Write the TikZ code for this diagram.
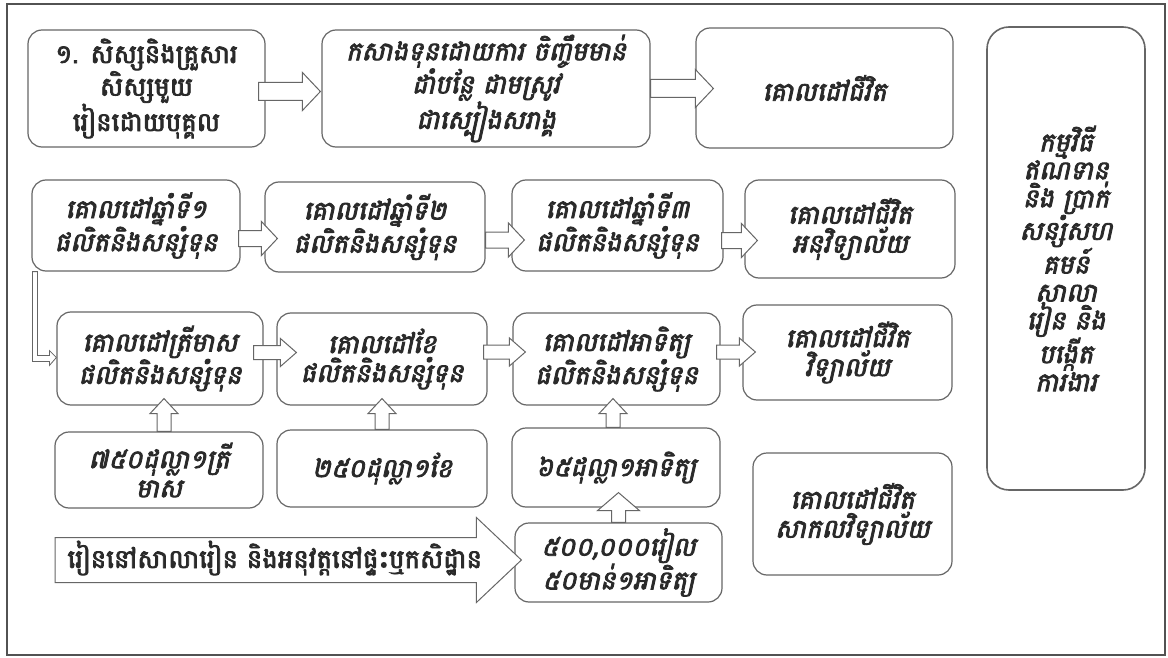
\documentclass[tikz,border=0pt]{standalone}
\usepackage{fontspec}
\usetikzlibrary{calc}
\newfontfamily\khup[Script=Khmer,FakeBold=3]{Battambang}
\newfontfamily\khsl[Script=Khmer,FakeSlant=0.22,FakeBold=3.2]{Battambang}
\definecolor{ink}{HTML}{2A2A2A}
\definecolor{edge}{HTML}{666666}
\tikzset{
  box/.style={draw=edge, line width=1.2pt, rounded corners=14pt, fill=white,
    align=center, text=ink, inner sep=2pt},
  sl/.style={font=\khsl\fontsize{26}{29}\selectfont},
  up/.style={font=\khup\fontsize{26}{31}\selectfont},
  blk/.style={draw=edge, line width=1pt, fill=white, line join=miter},
}
\newcommand\hblock[5]{\draw[blk] let \p1=(#1), \p2=(#2) in
 (\x1,\y1+#3) -- (\x2-#5,\y1+#3) -- (\x2-#5,\y1+#4) -- (\x2,\y1) -- (\x2-#5,\y1-#4) -- (\x2-#5,\y1-#3) -- (\x1,\y1-#3) -- cycle;}
\newcommand\vblock[5]{\draw[blk] let \p1=(#1), \p2=(#2) in
 (\x1+#3,\y1) -- (\x1+#3,\y2-#5) -- (\x1+#4,\y2-#5) -- (\x1,\y2) -- (\x1-#4,\y2-#5) -- (\x1-#3,\y2-#5) -- (\x1-#3,\y1) -- cycle;}
\begin{document}
\begin{tikzpicture}[x=1pt,y=-1pt]
\useasboundingbox (0,0) rectangle (1168,658);
\fill[white] (0,0) rectangle (1168,658);
\draw[edge!80!black, line width=1.8pt] (7,4) rectangle (1165,655);

% top row
\node[box,up,minimum width=237pt,minimum height=117pt] (A) at (146.5,88.5) {១. សិស្សនិងគ្រួសារ\\សិស្សមួយ\\រៀនដោយបុគ្គល};
\node[box,sl,minimum width=328pt,minimum height=117pt] (B) at (486,88.5) {កសាងទុនដោយការ ចិញ្ចឹមមាន់\\ដាំបន្លែ ដាមស្រូវ\\ជាស្បៀងសរាង្គ};
\node[box,sl,minimum width=257pt,minimum height=120pt] (C) at (824.5,88) {គោលដៅជីវិត};
\node[box,sl,line width=1.6pt,rounded corners=22pt,minimum width=158pt,minimum height=463pt,
  font=\khsl\fontsize{26}{28}\selectfont] (D) at (1066,258.5)
  {កម្មវិធី\\ឥណទាន\\និង ប្រាក់\\សន្សំសហ\\គមន៍\\សាលា\\រៀន និង\\បង្កើត\\ការងារ};

% row 2
\node[box,sl,minimum width=208pt,minimum height=91pt] (Y1) at (136,225.5) {គោលដៅឆ្នាំទី១\\ផលិតនិងសន្សំទុន};
\node[box,sl,minimum width=220pt,minimum height=90pt] (Y2) at (375,227) {គោលដៅឆ្នាំទី២\\ផលិតនិងសន្សំទុន};
\node[box,sl,minimum width=211pt,minimum height=91pt] (Y3) at (617.5,225.5) {គោលដៅឆ្នាំទី៣\\ផលិតនិងសន្សំទុន};
\node[box,sl,minimum width=210pt,minimum height=98pt] (L1) at (850,229) {គោលដៅជីវិត\\អនុវិទ្យាល័យ};

% row 3
\node[box,sl,minimum width=206pt,minimum height=93pt] (Q) at (160,358.5) {គោលដៅត្រីមាស\\ផលិតនិងសន្សំទុន};
\node[box,sl,minimum width=210pt,minimum height=92pt] (M) at (382,359) {គោលដៅខែ\\ផលិតនិងសន្សំទុន};
\node[box,sl,minimum width=207pt,minimum height=92pt] (W) at (616.5,359) {គោលដៅអាទិត្យ\\ផលិតនិងសន្សំទុន};
\node[box,sl,minimum width=209pt,minimum height=95pt] (L2) at (847.5,352.5) {គោលដៅជីវិត\\វិទ្យាល័យ};

% row 4
\node[box,sl,minimum width=208pt,minimum height=76pt] (Qm) at (159,470) {៧៥០ដុល្លា១ត្រី\\មាស};
\node[box,sl,minimum width=210pt,minimum height=77pt] (Mm) at (382,468.5) {២៥០ដុល្លា១ខែ};
\node[box,sl,minimum width=208pt,minimum height=79pt] (Wm) at (616,467.5) {៦៥ដុល្លា១អាទិត្យ};
\node[box,sl,minimum width=199pt,minimum height=122pt] (L3) at (852.5,514) {គោលដៅជីវិត\\សាកលវិទ្យាល័យ};
\node[box,sl,minimum width=207pt,minimum height=79pt] (R) at (618.5,562.5) {៥០០,០០០រៀល\\៥០មាន់១អាទិត្យ};

% big arrow
\coordinate (bs) at (55,560);
\hblock{bs}{$(R.west)+(7,-2.5)$}{22.5pt}{42.5pt}{45pt}
\node[up,text=ink,anchor=west] (bt) at (64,558) {រៀននៅសាលារៀន និងអនុវត្តនៅផ្ទះឬកសិដ្ឋាន};

% horizontal arrows
\hblock{$(A.east)+(-7,3)$}{$(B.west)+(-1,3)$}{9pt}{19pt}{18pt}
\hblock{$(B.east)+(0,0)$}{$(C.west)+(18,0)$}{9pt}{19pt}{18pt}
\hblock{$(Y1.east)+(-2,13)$}{$(Y2.west)+(13,11)$}{8pt}{17pt}{16pt}
\hblock{$(Y2.east)+(0,13)$}{$(Y3.west)+(13,15)$}{8pt}{17pt}{16pt}
\hblock{$(Y3.east)+(-2,15)$}{$(L1.west)+(13,11)$}{8pt}{17pt}{16pt}
\hblock{$(Q.east)+(-10,-6)$}{$(M.west)+(20,-7)$}{7pt}{14pt}{16pt}
\hblock{$(M.east)+(-4,-7)$}{$(W.west)+(13,-7)$}{7pt}{14pt}{16pt}
\hblock{$(W.east)+(-4,-7)$}{$(L2.west)+(13,0)$}{7pt}{14pt}{16pt}

% vertical arrows
\vblock{$(Qm.north)+(5,0)$}{$(Q.south)+(0,-7)$}{7pt}{14pt}{15pt}
\vblock{$(Mm.north)+(0,0)$}{$(M.south)+(0,-7)$}{7pt}{14pt}{15pt}
\vblock{$(Wm.north)+(-3,0)$}{$(W.south)+(0,-7)$}{7pt}{14pt}{15pt}
\vblock{$(R.north)+(0,0)$}{$(Wm.south)+(0,-15)$}{7pt}{21pt}{18pt}

% elbow arrow
\draw[blk,line width=0.8pt] let \p1=($(Y1.south west)+(1,0)$), \p2=(Q.west) in
  (\x1,\y1) -- (\x1,\y2-3pt) -- (\x2-7pt,\y2-3pt) -- (\x2-7pt,\y2-7pt) -- (\x2,\y2+1pt)
  -- (\x2-7pt,\y2+8pt) -- (\x2-7pt,\y2+3pt) -- (\x1+5pt,\y2+3pt) -- (\x1+5pt,\y1) -- cycle;
\end{tikzpicture}
\end{document}
